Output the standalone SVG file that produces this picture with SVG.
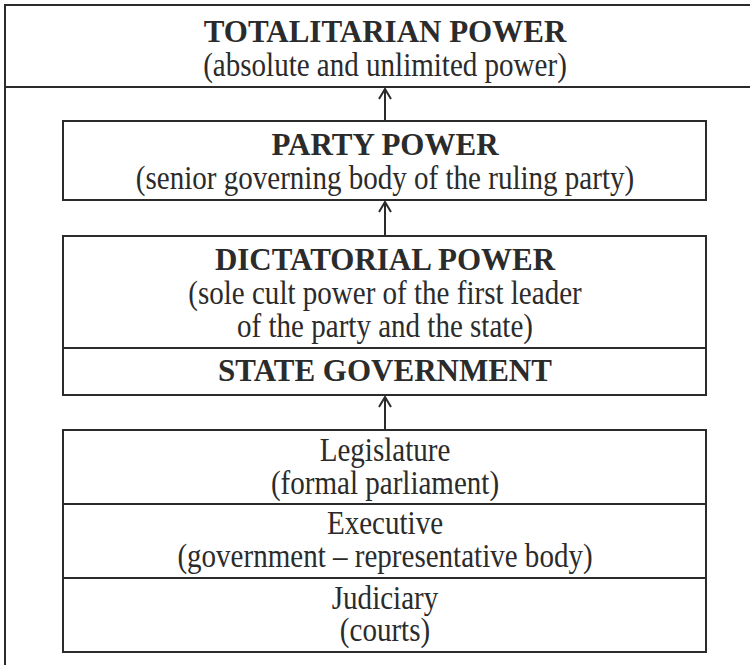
<svg xmlns="http://www.w3.org/2000/svg" width="750" height="665" viewBox="0 0 750 665">
  <style>
    .frame { fill: #ffffff; stroke: #2b2b2b; stroke-width: 2; }
    .rule { stroke: #2b2b2b; stroke-width: 2; fill: none; }
    .head { font-family: "Liberation Serif", "Times New Roman", serif; font-weight: bold; font-size: 31px; fill: #2b2b2b; text-anchor: middle; }
    /* body lines are set tall and narrowed with scale(0.88,1) */
    .sub { font-family: "Liberation Serif", "Times New Roman", serif; font-size: 33px; fill: #2b2b2b; text-anchor: middle; }
    .link { stroke: #2b2b2b; stroke-width: 2; fill: none; marker-end: url(#arrow); }
  </style>
  <defs>
    <!-- open chevron arrowhead; x axis runs along the connector -->
    <marker id="arrow" viewBox="-12 -8 14 16" refX="0" refY="0" markerWidth="14" markerHeight="16" markerUnits="userSpaceOnUse" orient="auto" overflow="visible">
      <path d="M-10,-6 L0,0 L-10,6" fill="none" stroke="#2b2b2b" stroke-width="2"/>
    </marker>
  </defs>
  <rect width="750" height="665" fill="#ffffff"/>

  <!-- outer frame, open to the right and bottom -->
  <g id="frame">
    <path class="rule" d="M5,665 L5,5 L750,5"/>
    <line class="rule" x1="5" y1="87" x2="750" y2="87"/>
  </g>

  <g id="totalitarian">
    <text class="head" x="385" y="42">TOTALITARIAN POWER</text>
    <text class="sub" transform="translate(385,76) scale(0.88,1)">(absolute and unlimited power)</text>
  </g>

  <g id="party">
    <rect class="frame" x="63" y="121" width="643" height="79"/>
    <text class="head" x="385" y="155">PARTY POWER</text>
    <text class="sub" transform="translate(385,189) scale(0.88,1)">(senior governing body of the ruling party)</text>
  </g>

  <g id="dictatorial">
    <rect class="frame" x="63" y="236" width="643" height="159"/>
    <line class="rule" x1="63" y1="348" x2="706" y2="348"/>
    <text class="head" x="385" y="270">DICTATORIAL POWER</text>
    <text class="sub" transform="translate(385,304) scale(0.88,1)">(sole cult power of the first leader</text>
    <text class="sub" transform="translate(385,337) scale(0.88,1)">of the party and the state)</text>
    <text class="head" x="385" y="381">STATE GOVERNMENT</text>
  </g>

  <g id="branches">
    <rect class="frame" x="63" y="430" width="643" height="222"/>
    <line class="rule" x1="63" y1="504" x2="706" y2="504"/>
    <line class="rule" x1="63" y1="578" x2="706" y2="578"/>
    <text class="sub" transform="translate(385,461) scale(0.88,1)">Legislature</text>
    <text class="sub" transform="translate(385,494) scale(0.88,1)">(formal parliament)</text>
    <text class="sub" transform="translate(385,534) scale(0.88,1)">Executive</text>
    <text class="sub" transform="translate(385,567) scale(0.88,1)">(government – representative body)</text>
    <text class="sub" transform="translate(385,609) scale(0.88,1)">Judiciary</text>
    <text class="sub" transform="translate(385,641) scale(0.88,1)">(courts)</text>
  </g>

  <g id="connectors">
    <line class="link" x1="385" y1="121" x2="385" y2="89"/>
    <line class="link" x1="385" y1="236" x2="385" y2="202"/>
    <line class="link" x1="385" y1="430" x2="385" y2="397"/>
  </g>
</svg>
